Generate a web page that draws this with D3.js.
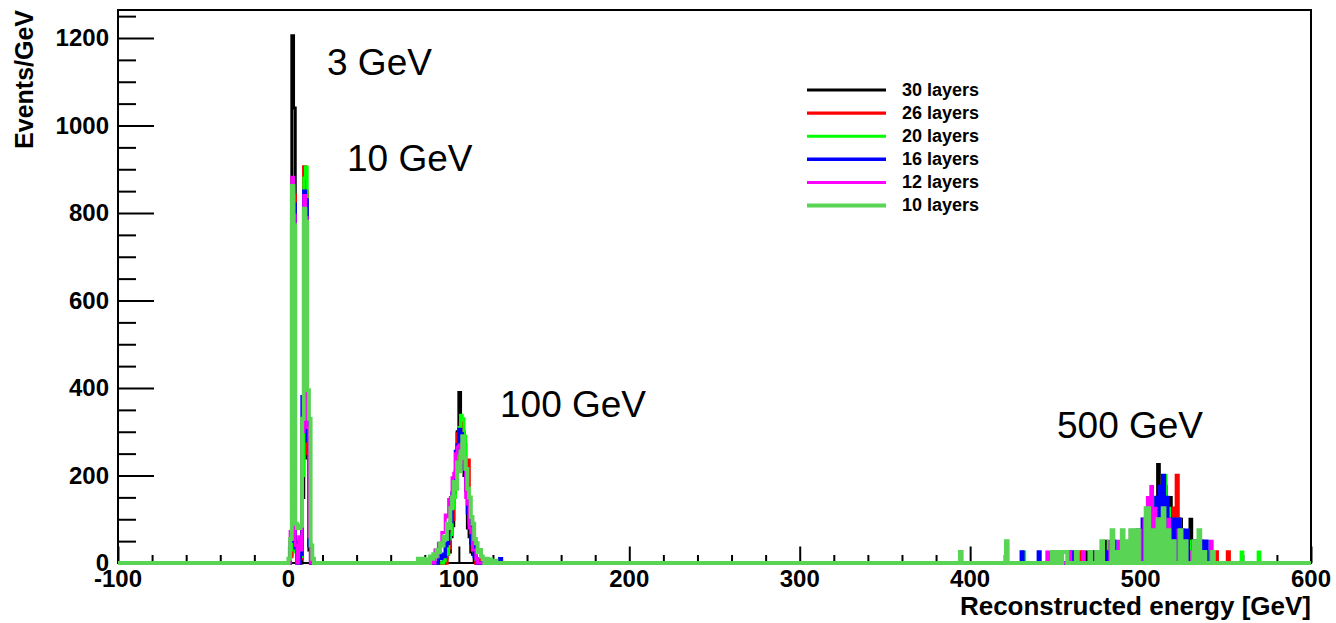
<!DOCTYPE html>
<html>
<head>
<meta charset="utf-8">
<script src="https://cdn.jsdelivr.net/npm/d3@7"></script>
<style>
  html, body { margin: 0; padding: 0; background: #fff; }
  svg { display: block; }
  text { font-family: "Liberation Sans", Arial, sans-serif; }
</style>
</head>
<body>
<svg id="chart" width="1336" height="623"></svg>
<script>
// Energy response for different numbers of calorimeter layers.
// Histograms use 1 GeV bins; each entry is [bin lower edge (GeV), events/GeV].
const seriesNames = ["30 layers", "26 layers", "20 layers", "16 layers", "12 layers", "10 layers"];

const bins30 = [
  [1,20],[2,1205],[3,1040],[4,50],[5,10],
  [8,150],[9,860],[10,800],[11,240],[12,30],
  [92,10],[93,20],[94,25],[95,60],[96,85],[97,160],[98,200],[99,300],[100,390],[101,310],
  [102,295],[103,200],[104,165],[105,80],[106,60],[107,25],[108,20],[109,5],
  [468,25],[479,50],[486,25],[490,25],[495,50],[499,25],[503,75],[506,100],[508,150],[510,225],
  [512,125],[514,175],[516,100],[517,150],[520,75],[523,100],[526,50],[529,100],[532,50],[537,25]
];
const bins26 = [
  [1,15],[2,850],[3,840],[4,30],
  [7,10],[8,330],[9,905],[10,850],[11,250],[12,40],
  [91,10],[93,25],[94,35],[95,80],[96,100],[97,170],[98,210],[99,295],[100,280],[101,320],
  [102,300],[103,270],[104,190],[105,235],[106,90],[107,70],[108,30],[109,25],[111,10],
  [465,25],[473,25],[485,25],[492,25],[497,50],[501,50],[505,75],[509,100],[512,125],[515,100],
  [519,125],[521,200],[522,100],[524,75],[527,50],[531,25],[535,50],[544,25],[551,25]
];
const bins20 = [
  [1,30],[2,855],[3,800],[4,25],
  [7,15],[8,200],[9,880],[10,905],[11,300],[12,50],
  [91,5],[92,20],[93,20],[94,55],[95,65],[96,125],[97,150],[98,230],[99,250],[100,310],
  [101,338],[102,330],[103,290],[104,200],[105,170],[106,95],[107,75],[108,35],[109,25],[110,8],
  [431,25],[462,25],[476,25],[481,50],[488,25],[493,50],[496,75],[500,50],[502,100],[505,125],
  [507,150],[509,125],[511,150],[514,200],[516,125],[518,100],[522,100],[525,75],[528,50],
  [533,50],[539,25],[559,25],[569,25]
];
const bins16 = [
  [1,50],[2,845],[3,820],[4,35],
  [7,20],[8,380],[9,850],[10,830],[11,280],[12,40],
  [88,15],[89,10],[90,20],[91,15],[92,40],[93,45],[94,85],[95,95],[96,160],[97,185],
  [98,255],[99,270],[100,305],[101,295],[102,280],[103,215],[104,185],[105,115],[106,95],
  [107,45],[108,40],[109,15],[110,10],[124,10],
  [430,25],[440,25],[459,25],[471,25],[480,25],[484,50],[491,25],[495,50],[498,75],[501,100],
  [504,100],[507,125],[509,150],[511,175],[513,200],[515,150],[517,100],[520,100],[522,100],
  [524,75],[527,75],[531,50],[535,50],[538,50],[542,25]
];
const bins12 = [
  [1,72],[2,882],[3,795],[4,40],[6,60],
  [7,30],[8,300],[9,840],[10,790],[11,310],[12,60],
  [84,10],[86,30],[87,15],[88,45],[89,40],[90,70],[91,70],[92,110],[93,105],[94,145],
  [95,150],[96,195],[97,205],[98,250],[99,265],[100,270],[101,260],[102,230],[103,215],
  [104,150],[105,135],[106,80],[107,70],[108,30],[109,30],[110,10],
  [445,25],[458,25],[466,25],[475,25],[482,50],[487,50],[490,25],[494,75],[497,50],[499,75],
  [502,100],[504,150],[506,175],[508,125],[511,100],[514,75],[516,100],[519,50],[522,75],
  [525,50],[530,25],[534,50],[541,50]
];
const bins10 = [
  [0,10],[1,55],[2,862],[3,772],[4,90],[5,80],[6,80],[7,85],
  [8,330],[9,810],[10,780],[11,395],[12,330],[13,40],[14,10],
  [76,10],[78,8],[79,10],[81,8],[83,15],[84,10],[85,20],[86,15],[87,30],[88,25],[89,45],
  [90,40],[91,60],[92,55],[93,90],[94,80],[95,125],[96,150],[97,185],[98,170],[99,230],
  [100,210],[101,255],[102,290],[103,240],[104,215],[105,170],[106,150],[107,105],[108,90],
  [109,55],[110,45],[111,25],[112,30],[113,15],[114,10],[116,10],[118,8],[121,5],
  [394,25],[421,50],[448,25],[449,25],[451,25],[452,25],[454,25],[455,25],[456,25],[462,25],
  [470,25],[474,25],[477,50],[483,75],[486,25],[489,75],[492,50],[494,75],[496,75],[498,75],
  [503,125],[504,125],[507,75],[510,100],[513,125],[516,75],[519,50],[523,75],[526,50],
  [531,50],[534,75],[537,25],[542,25]
];
const seriesBins = [bins30, bins26, bins20, bins16, bins12, bins10];

const xTickValues = [-100, 0, 100, 200, 300, 400, 500, 600];
const yTickValues = [0, 200, 400, 600, 800, 1000, 1200];

const peakLabels = [
  { text: "3 GeV",   e: 3 },
  { text: "10 GeV",  e: 10 },
  { text: "100 GeV", e: 100 },
  { text: "500 GeV", e: 500 }
];

// ---- layout & style ----
const frame = { left: 118, right: 1311, top: 10, bottom: 563 };
const colors = ["#000000", "#ff0000", "#00ff00", "#0000ff", "#ff00ff", "#59d454"];
const widths = [3, 3.4, 3, 3.4, 3, 4];
const labelPos = [ [327, 75], [347, 171], [500, 417], [1057, 438] ];

const svg = d3.select("#chart");
const x = d3.scaleLinear().domain([-100, 600]).range([frame.left, frame.right]);
const y = d3.scaleLinear().domain([0, 1264]).range([frame.bottom, frame.top]);

// frame
svg.append("rect")
  .attr("x", frame.left).attr("y", frame.top)
  .attr("width", frame.right - frame.left).attr("height", frame.bottom - frame.top)
  .attr("fill", "none").attr("stroke", "#000").attr("stroke-width", 2);

// y axis: major ticks every 200, minor every 50, drawn inward
const yMajorLen = 36, yMinorLen = 18;
const yAxis = d3.axisRight(y)
  .tickValues(d3.range(0, 1251, 50))
  .tickSize(0)
  .tickFormat("");
const gy = svg.append("g").attr("transform", `translate(${frame.left},0)`).call(yAxis);
gy.select(".domain").remove();
gy.selectAll(".tick line")
  .attr("x2", d => (d % 200 === 0 ? yMajorLen : yMinorLen))
  .attr("stroke", "#000").attr("stroke-width", 2);
svg.append("g").selectAll("text").data(yTickValues).join("text")
  .attr("x", 109).attr("y", d => y(d)).attr("dy", "0.35em")
  .attr("text-anchor", "end")
  .attr("font-size", 24).attr("font-weight", "bold")
  .text(d => d);

// x axis: major ticks every 100, minor every 20, drawn inward
const xMajorLen = 16.5, xMinorLen = 8;
const xAxis = d3.axisTop(x)
  .tickValues(d3.range(-100, 601, 20))
  .tickSize(0)
  .tickFormat("");
const gx = svg.append("g").attr("transform", `translate(0,${frame.bottom})`).call(xAxis);
gx.select(".domain").remove();
gx.selectAll(".tick line")
  .attr("y2", d => (d % 100 === 0 ? -xMajorLen : -xMinorLen))
  .attr("stroke", "#000").attr("stroke-width", 2);
svg.append("g").selectAll("text").data(xTickValues).join("text")
  .attr("x", d => x(d)).attr("y", 587)
  .attr("text-anchor", "middle")
  .attr("font-size", 24).attr("font-weight", "bold")
  .text(d => d);

// axis titles
svg.append("text")
  .attr("transform", "translate(33,10) rotate(-90)")
  .attr("text-anchor", "end")
  .attr("font-size", 25).attr("font-weight", "bold")
  .text("Events/GeV");
svg.append("text")
  .attr("x", frame.right).attr("y", 615)
  .attr("text-anchor", "end")
  .attr("font-size", 26).attr("font-weight", "bold")
  .text("Reconstructed energy [GeV]");

// histograms as hollow step outlines over the full range
const edges = d3.range(-100, 601, 1);
function toSteps(list) {
  const vals = new Array(edges.length - 1).fill(0);
  list.forEach(([e, v]) => { vals[e + 100] = v; });
  const pts = vals.map((v, i) => [edges[i], v]);
  pts.push([600, vals[vals.length - 1]]);
  return pts;
}
const line = d3.line()
  .x(d => x(d[0]))
  .y(d => y(d[1]))
  .curve(d3.curveStepAfter);

svg.append("g").selectAll("path").data(seriesBins).join("path")
  .attr("d", d => line(toSteps(d)))
  .attr("fill", "none")
  .attr("stroke", (d, i) => colors[i])
  .attr("stroke-width", (d, i) => widths[i])
  .attr("stroke-linejoin", "miter");

// peak annotations
svg.append("g").selectAll("text").data(peakLabels).join("text")
  .attr("x", (d, i) => labelPos[i][0]).attr("y", (d, i) => labelPos[i][1])
  .attr("font-size", 37)
  .text(d => d.text);

// legend
const legend = svg.append("g");
seriesNames.forEach((name, i) => {
  const ly = 90 + i * 23.1;
  legend.append("line")
    .attr("x1", 807).attr("x2", 886).attr("y1", ly).attr("y2", ly)
    .attr("stroke", colors[i]).attr("stroke-width", widths[i]);
  legend.append("text")
    .attr("x", 902).attr("y", ly + 5.5)
    .attr("font-size", 18).attr("font-weight", "bold")
    .text(name);
});
</script>
</body>
</html>
